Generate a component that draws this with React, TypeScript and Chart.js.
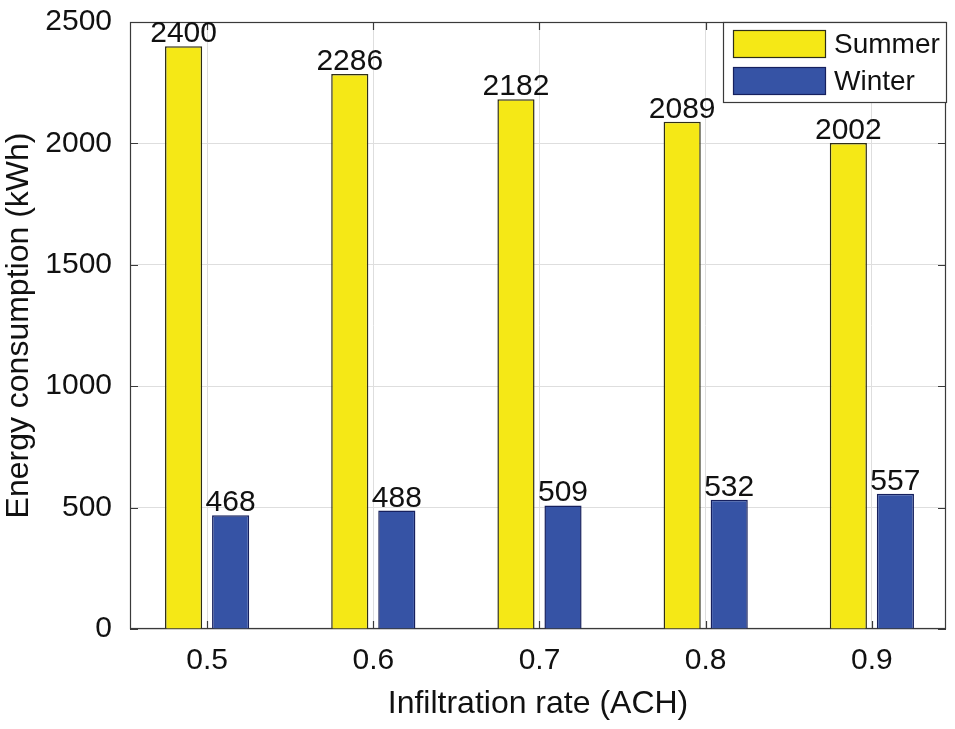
import React, { useEffect, useRef } from "react";
import { Chart, registerables } from "chart.js";

Chart.register(...registerables);

const categories = [0.5, 0.6, 0.7, 0.8, 0.9];
const summerValues = [2400, 2286, 2182, 2089, 2002];
const winterValues = [468, 488, 509, 532, 557];
const yTicks = [0, 500, 1000, 1500, 2000, 2500];
const seriesNames = ["Summer", "Winter"];
const xTitle = "Infiltration rate (ACH)";
const yTitle = "Energy consumption (kWh)";

const FONT = "'Liberation Sans', Arial, Helvetica, sans-serif";
const YELLOW = "#f5e816";
const BLUE = "#3653a5";
const AXIS = "#3a3a3a";

const framePlugin = {
  id: "frame",
  beforeDatasetsDraw(chart: any) {
    const { ctx, chartArea: a, scales } = chart;
    ctx.save();
    ctx.strokeStyle = AXIS;
    ctx.lineWidth = 1.2;
    ctx.strokeRect(a.left + 0.5, a.top + 0.5, a.right - a.left - 1, a.bottom - a.top - 1);
    const tl = 8;
    ctx.beginPath();
    yTicks.forEach((v) => {
      const y = Math.round(scales.y.getPixelForValue(v)) + 0.5;
      ctx.moveTo(a.left, y);
      ctx.lineTo(a.left + tl, y);
      ctx.moveTo(a.right, y);
      ctx.lineTo(a.right - tl, y);
    });
    categories.forEach((v) => {
      const x = Math.round(scales.x.getPixelForValue(v)) + 0.5;
      ctx.moveTo(x, a.bottom);
      ctx.lineTo(x, a.bottom - tl);
      ctx.moveTo(x, a.top);
      ctx.lineTo(x, a.top + tl);
    });
    ctx.stroke();
    ctx.restore();
  },
};

const labelPlugin = {
  id: "valueLabels",
  afterDatasetsDraw(chart: any) {
    const { ctx } = chart;
    ctx.save();
    ctx.fillStyle = "#111";
    ctx.font = `30px ${FONT}`;
    ctx.textAlign = "center";
    ctx.textBaseline = "alphabetic";
    chart.data.datasets.forEach((ds: any, i: number) => {
      const meta = chart.getDatasetMeta(i);
      meta.data.forEach((el: any, j: number) => {
        ctx.fillText(String(ds.data[j].y), el.x, el.y - 4);
      });
    });
    ctx.restore();
  },
};

const legendPlugin = {
  id: "boxLegend",
  afterDraw(chart: any) {
    const { ctx, chartArea: a } = chart;
    const right = a.right + 1;
    const left = right - 224;
    const top = a.top;
    const h = 81;
    ctx.save();
    ctx.fillStyle = "#fff";
    ctx.fillRect(left, top, right - left, h);
    ctx.strokeStyle = AXIS;
    ctx.lineWidth = 1.2;
    ctx.strokeRect(left + 0.5, top + 0.5, right - left - 1, h - 1);
    ctx.font = `28px ${FONT}`;
    ctx.textAlign = "left";
    ctx.textBaseline = "middle";
    chart.data.datasets.forEach((ds: any, i: number) => {
      const sy = top + 8 + i * 37;
      ctx.fillStyle = ds.backgroundColor;
      ctx.fillRect(left + 10, sy, 93, 28);
      ctx.strokeStyle = ds.borderColor;
      ctx.strokeRect(left + 10.5, sy + 0.5, 92, 27);
      ctx.fillStyle = "#111";
      ctx.fillText(ds.label, left + 111, sy + 15);
    });
    ctx.restore();
  },
};

export default function App() {
  const ref = useRef<HTMLCanvasElement>(null);
  useEffect(() => {
    if (!ref.current) return;
    const chart = new Chart(ref.current, {
      type: "bar",
      data: {
        datasets: [
          {
            label: seriesNames[0],
            data: categories.map((c, i) => ({ x: c, y: summerValues[i] })),
            backgroundColor: YELLOW,
            borderColor: "#2e2e18",
            borderWidth: 1.5,
            categoryPercentage: 0.566,
            barPercentage: 0.79,
          },
          {
            label: seriesNames[1],
            data: categories.map((c, i) => ({ x: c, y: winterValues[i] })),
            backgroundColor: BLUE,
            borderColor: "#16205e",
            borderWidth: 1.5,
            categoryPercentage: 0.566,
            barPercentage: 0.79,
          },
        ],
      },
      options: {
        responsive: false,
        animation: false,
        layout: { padding: { top: 22, right: 9, left: 0, bottom: 0 } },
        plugins: { legend: { display: false }, tooltip: { enabled: false } },
        scales: {
          x: {
            type: "linear",
            offset: false,
            min: 0.4536,
            max: 0.9446,
            afterBuildTicks: (axis: any) => {
              axis.ticks = categories.map((v) => ({ value: v }));
            },
            afterFit: (axis: any) => {
              axis.height = 100;
              axis.paddingLeft = 0;
              axis.paddingRight = 0;
            },
            ticks: {
              color: "#111",
              font: { family: FONT, size: 30 },
              padding: 14,
              maxRotation: 0,
              autoSkip: false,
              callback: (v: any) => Number(v).toFixed(1),
            },
            grid: { color: "#dedede", drawTicks: false, offset: false },
            border: { display: false },
            title: {
              display: true,
              text: xTitle,
              color: "#111",
              font: { family: FONT, size: 32 },
              padding: { top: 0, bottom: 6 },
            },
          },
          y: {
            min: 0,
            max: 2500,
            afterBuildTicks: (axis: any) => {
              axis.ticks = yTicks.map((v) => ({ value: v }));
            },
            afterFit: (axis: any) => {
              axis.width = 130;
              axis.paddingTop = 0;
              axis.paddingBottom = 0;
            },
            ticks: {
              color: "#111",
              font: { family: FONT, size: 30 },
              padding: 18,
              callback: (v: any) => String(v),
            },
            grid: { color: "#dedede", drawTicks: false },
            border: { display: false },
            title: {
              display: true,
              text: yTitle,
              color: "#111",
              font: { family: FONT, size: 32 },
              padding: { top: 0, bottom: 0 },
            },
          },
        },
      } as any,
      plugins: [framePlugin, labelPlugin, legendPlugin],
    });
    return () => chart.destroy();
  }, []);
  return (
    <div style={{ position: "fixed", left: 0, top: 0, width: 955, height: 729, background: "#fff" }}>
      <canvas ref={ref} width={955} height={729} style={{ display: "block" }} />
    </div>
  );
}
